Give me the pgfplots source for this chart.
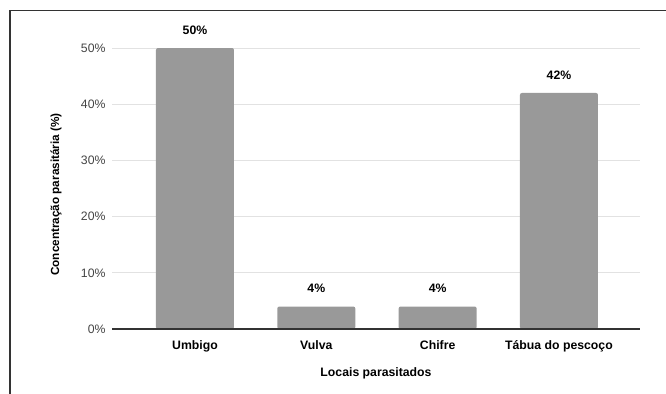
\documentclass[border=0pt]{standalone}
\usepackage{pgfplots}
\pgfplotsset{compat=1.18}
\usepackage{fontspec}
\setmainfont{Liberation Sans}
\definecolor{barc}{HTML}{999999}
\definecolor{gridc}{HTML}{E2E2E2}
\definecolor{tickc}{HTML}{444444}
\definecolor{framec}{HTML}{333333}
\begin{document}
\begin{tikzpicture}
\path[use as bounding box] (0,0) rectangle (666bp,-394bp);
\draw[framec, line width=1.4bp] (10bp,-394bp) -- (10bp,-10.5bp) -- (666bp,-10.5bp);
\begin{axis}[
  at={(112bp,-329bp)}, anchor=south west,
  scale only axis,
  width=528bp, height=281bp,
  xmin=-0.684, xmax=3.668,
  ymin=0, ymax=50,
  clip=false,
  axis line style={draw=none},
  major tick length=0,
  ytick={0,10,20,30,40,50},
  yticklabel={\pgfmathprintnumber{\tick}\%},
  yticklabel style={font=\fontsize{12.3}{14}\selectfont, color=tickc, xshift=-3bp},
  xtick=data,
  xticklabels={Umbigo, Vulva, Chifre, Tábua do pescoço},
  xticklabel style={font=\bfseries\fontsize{12.3}{14}\selectfont, color=black, yshift=-8bp},
  /pgf/number format/assume math mode=true,
  ymajorgrids,
  grid style={gridc, line width=1bp},
  ylabel={Concentração parasitária (\%)},
  ylabel style={font=\bfseries\fontsize{11.8}{14}\selectfont, at={(axis description cs:0,0.5)}, anchor=center, rotate=0, yshift=56bp, xshift=-6bp},
  xlabel={Locais parasitados},
  xlabel style={font=\bfseries\fontsize{12.3}{14}\selectfont, at={(axis description cs:0.5,0)}, anchor=center, yshift=-44bp},
  nodes near coords={\pgfmathprintnumber{\pgfplotspointmeta}\%},
  nodes near coords style={font=\bfseries\fontsize{12.3}{14}\selectfont, anchor=center, yshift=18bp, color=black},
]
\addplot[ybar, bar width=78bp, fill=barc, draw=none, rounded corners=2bp] coordinates {(0,50) (1,4) (2,4) (3,42)};
\draw[framec, line width=1.2bp] (rel axis cs:0,0) -- (rel axis cs:1,0);
\end{axis}
\end{tikzpicture}
\end{document}
